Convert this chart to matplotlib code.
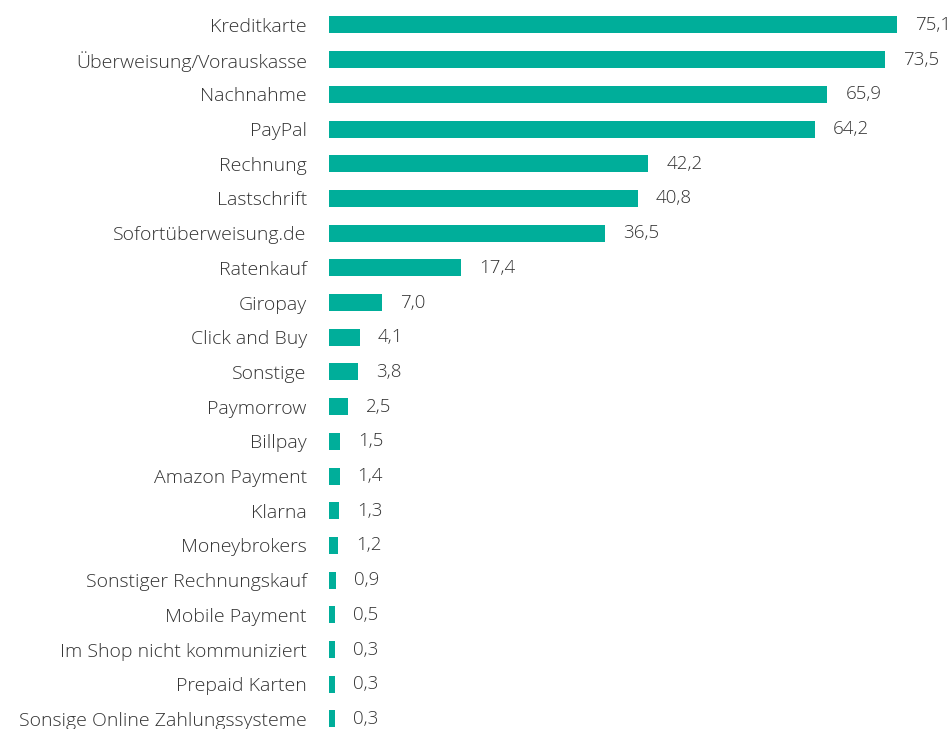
import matplotlib
matplotlib.use("Agg")
import matplotlib.pyplot as plt
import numpy as np

# Zahlungsarten im Online-Shop (Anteil in %)
labels = ["Kreditkarte", "Überweisung/Vorauskasse", "Nachnahme", "PayPal",
          "Rechnung", "Lastschrift", "Sofortüberweisung.de", "Ratenkauf",
          "Giropay", "Click and Buy", "Sonstige", "Paymorrow", "Billpay",
          "Amazon Payment", "Klarna", "Moneybrokers",
          "Sonstiger Rechnungskauf", "Mobile Payment",
          "Im Shop nicht kommuniziert", "Prepaid Karten",
          "Sonsige Online Zahlungssysteme"]
values = [75.1, 73.5, 65.9, 64.2, 42.2, 40.8, 36.5, 17.4, 7.0, 4.1, 3.8,
          2.5, 1.5, 1.4, 1.3, 1.2, 0.9, 0.5, 0.3, 0.3, 0.3]

BAR_COLOR = "#00ae9a"
TXT_COLOR = "#333333"
MIN_W = 0.8   # tiny bars still drawn visibly

plt.rcParams['font.family'] = ['Open Sans', 'DejaVu Sans']
plt.rcParams['font.weight'] = 'light'

fig = plt.figure(figsize=(9.5, 7.29), dpi=100)
ax = fig.add_axes([329 / 950, 0.0, 621 / 950, 1.0])

y = np.arange(len(values))
widths = np.maximum(values, MIN_W)
ax.barh(y, widths, height=0.49, color=BAR_COLOR)

for yi, v, w in zip(y, values, widths):
    ax.annotate(f"{v:.1f}".replace(".", ","), (w, yi), xytext=(13, 0),
                textcoords="offset points", va="center", ha="left",
                fontsize=13.5, color=TXT_COLOR)

ax.set_yticks(y)
ax.set_yticklabels(labels, fontsize=14, color=TXT_COLOR)
ax.tick_params(axis="y", length=0, pad=16)
ax.set_xticks([])
ax.set_xlim(0, 82.1)
ax.set_ylim(20.29, -0.72)
for s in ax.spines.values():
    s.set_visible(False)

fig.savefig("out.png", dpi=100)
